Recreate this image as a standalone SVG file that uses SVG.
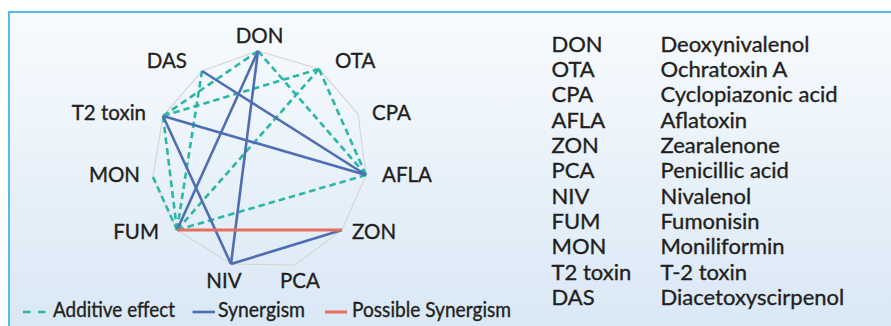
<svg xmlns="http://www.w3.org/2000/svg" width="891" height="326" viewBox="0 0 891 326">
  <defs>
    <linearGradient id="bg" x1="0" y1="0" x2="0" y2="1">
      <stop offset="0" stop-color="#f8fbfe"/>
      <stop offset="1" stop-color="#d8e7f5"/>
    </linearGradient>
    <style>
      text { font-family: Lato, "Open Sans", "Liberation Sans", sans-serif; fill: #231f20; stroke: #231f20; stroke-width: 0.35; }
      .lbl { font-size: 20.5px; }
      .tbl { font-size: 22px; }
      .leg { font-size: 20.5px; }
      .poly { fill: none; stroke: #d6d6d6; stroke-width: 1.2; }
      .add { fill: none; stroke: #2bb6a6; stroke-width: 2.6; stroke-dasharray: 6.5 4; }
      .syn { fill: none; stroke: #4e6eb1; stroke-width: 2.6; }
      .pos { fill: none; stroke: #e2705c; stroke-width: 3; }
    </style>
  </defs>
  <rect x="0" y="0" width="891" height="326" fill="#ffffff"/>
  <rect x="9" y="12" width="900" height="330" fill="url(#bg)" stroke="#55bbe7" stroke-width="2"/>

  <polygon class="poly" points="258,51 319,69 358,114 366,175 342,230 295,265 231,264 177,230 153,177 163,116 202,71"/>

  <g id="connectors">
    <path class="add" d="M258,51 L163,116" pathLength="111.5"/>
    <path class="add" d="M258,51 L366,175" pathLength="164.5"/>
    <path class="add" d="M319,69 L163,116" pathLength="164.5"/>
    <path class="add" d="M319,69 L366,175" pathLength="111.5"/>
    <path class="add" d="M319,69 L177,230" pathLength="217"/>
    <path class="add" d="M202,71 L177,230" pathLength="164.5"/>
    <path class="add" d="M163,116 L177,230" pathLength="111.5"/>
    <path class="add" d="M153,177 L177,230" pathLength="58.5"/>
    <path class="add" d="M366,175 L177,230" pathLength="196"/>
    <path class="syn" d="M258,51 L177,230"/>
    <path class="syn" d="M258,51 L231,264"/>
    <path class="syn" d="M202,71 L366,175"/>
    <path class="syn" d="M163,116 L366,175"/>
    <path class="syn" d="M163,116 L231,264"/>
    <path class="syn" d="M231,264 L342,230"/>
    <path class="pos" d="M177,230 L342,230"/>
  </g>

  <g id="node-DON"><text class="lbl" x="259.5" y="43" text-anchor="middle">DON</text></g>
  <g id="node-OTA"><text class="lbl" x="335" y="68">OTA</text></g>
  <g id="node-CPA"><text class="lbl" x="372" y="120">CPA</text></g>
  <g id="node-AFLA"><text class="lbl" x="382" y="182">AFLA</text></g>
  <g id="node-ZON"><text class="lbl" x="352" y="239">ZON</text></g>
  <g id="node-PCA"><text class="lbl" x="300" y="288" text-anchor="middle">PCA</text></g>
  <g id="node-NIV"><text class="lbl" x="224" y="288" text-anchor="middle">NIV</text></g>
  <g id="node-FUM"><text class="lbl" x="159" y="239" text-anchor="end">FUM</text></g>
  <g id="node-MON"><text class="lbl" x="140" y="182" text-anchor="end">MON</text></g>
  <g id="node-T2"><text class="lbl" x="146" y="120" text-anchor="end">T2 toxin</text></g>
  <g id="node-DAS"><text class="lbl" x="187" y="68" text-anchor="end">DAS</text></g>

  <g id="table">
    <text class="tbl" x="551.5" y="51.7">DON</text><text class="tbl" x="660.5" y="51.7">Deoxynivalenol</text>
    <text class="tbl" x="551.5" y="77">OTA</text><text class="tbl" x="660.5" y="77">Ochratoxin A</text>
    <text class="tbl" x="551.5" y="102.4">CPA</text><text class="tbl" x="660.5" y="102.4">Cyclopiazonic acid</text>
    <text class="tbl" x="551.5" y="127.7">AFLA</text><text class="tbl" x="660.5" y="127.7">Aflatoxin</text>
    <text class="tbl" x="551.5" y="153">ZON</text><text class="tbl" x="660.5" y="153">Zearalenone</text>
    <text class="tbl" x="551.5" y="178.4">PCA</text><text class="tbl" x="660.5" y="178.4">Penicillic acid</text>
    <text class="tbl" x="551.5" y="203.7">NIV</text><text class="tbl" x="660.5" y="203.7">Nivalenol</text>
    <text class="tbl" x="551.5" y="229">FUM</text><text class="tbl" x="660.5" y="229">Fumonisin</text>
    <text class="tbl" x="551.5" y="254.4">MON</text><text class="tbl" x="660.5" y="254.4">Moniliformin</text>
    <text class="tbl" x="551.5" y="279.7">T2 toxin</text><text class="tbl" x="660.5" y="279.7">T-2 toxin</text>
    <text class="tbl" x="551.5" y="305">DAS</text><text class="tbl" x="660.5" y="305">Diacetoxyscirpenol</text>
  </g>

  <g id="legend">
    <line x1="23" y1="312" x2="46" y2="312" stroke="#2bb6a6" stroke-width="2.6" stroke-dasharray="7.5 7.5"/>
    <text class="leg" x="53" y="317" textLength="122" lengthAdjust="spacingAndGlyphs">Additive effect</text>
    <line x1="192.5" y1="312" x2="215" y2="312" stroke="#4e6eb1" stroke-width="2.6"/>
    <text class="leg" x="218" y="317" textLength="87" lengthAdjust="spacingAndGlyphs">Synergism</text>
    <line x1="325" y1="312" x2="347" y2="312" stroke="#e2705c" stroke-width="3"/>
    <text class="leg" x="352" y="317" textLength="159" lengthAdjust="spacingAndGlyphs">Possible Synergism</text>
  </g>
</svg>
